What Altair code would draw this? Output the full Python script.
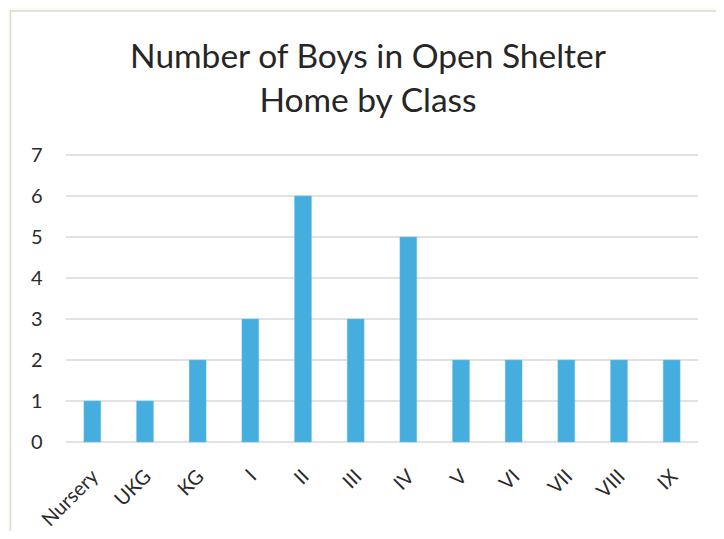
import altair as alt
import pandas as pd

classes = ["Nursery", "UKG", "KG", "I", "II", "III", "IV", "V", "VI", "VII", "VIII", "IX"]
boys = [1, 1, 2, 3, 6, 3, 5, 2, 2, 2, 2, 2]
y_ticks = [0, 1, 2, 3, 4, 5, 6, 7]
title_lines = ["Number of Boys in Open Shelter", "Home by Class"]

df = pd.DataFrame({"cls": classes, "boys": boys})
grid_df = pd.DataFrame({"v": y_ticks})

W, H = 632, 287
FONT = "Lato"
TXT = "#2b2b2b"

yscale = alt.Scale(domain=[0, 7], nice=False, zero=True)

bg = alt.Chart(pd.DataFrame({"a": [0]})).mark_rect(
    fill="white", stroke="#D9D9D9", strokeWidth=1.5
).encode(
    x=alt.value(-55.5), x2=alt.value(W + 40),
    y=alt.value(-144), y2=alt.value(H + 110),
)

title = alt.Chart(pd.DataFrame({"a": [0]})).mark_text(
    font=FONT, fontSize=33.5, color="#262626", align="center",
    baseline="alphabetic", lineHeight=44
).encode(
    x=alt.value(302), y=alt.value(-87), text=alt.value(title_lines)
)

grid = alt.Chart(grid_df).mark_rule(color="#D9D9D9", strokeWidth=1.5).encode(
    y=alt.Y("v:Q", scale=yscale,
            axis=alt.Axis(values=y_ticks, grid=False, domain=False, ticks=False,
                          labelFont=FONT, labelFontSize=20, labelColor=TXT,
                          labelPadding=24, title=None, zindex=1))
)

bars = alt.Chart(df).mark_bar(color="#45AEDF", stroke="#6CC0E8", strokeWidth=0.5).encode(
    x=alt.X("cls:N", sort=None,
            scale=alt.Scale(paddingInner=0.68, paddingOuter=0.34),
            axis=alt.Axis(title=None, domain=False, ticks=False, labelAngle=-45,
                          labelFont=FONT, labelFontSize=20, labelColor=TXT,
                          labelPadding=24, labelOffset=-4, zindex=1)),
    y=alt.Y("boys:Q", scale=yscale),
)

chart = alt.layer(bg, grid, bars, title).properties(
    width=W, height=H,
    autosize=alt.AutoSizeParams(type="none"),
    padding={"left": 58, "top": 147, "right": 18, "bottom": 89},
    background="#FDFBEC",
).configure_view(stroke=None)

chart.save("out.html", embed_options={"renderer": "svg", "actions": False})
